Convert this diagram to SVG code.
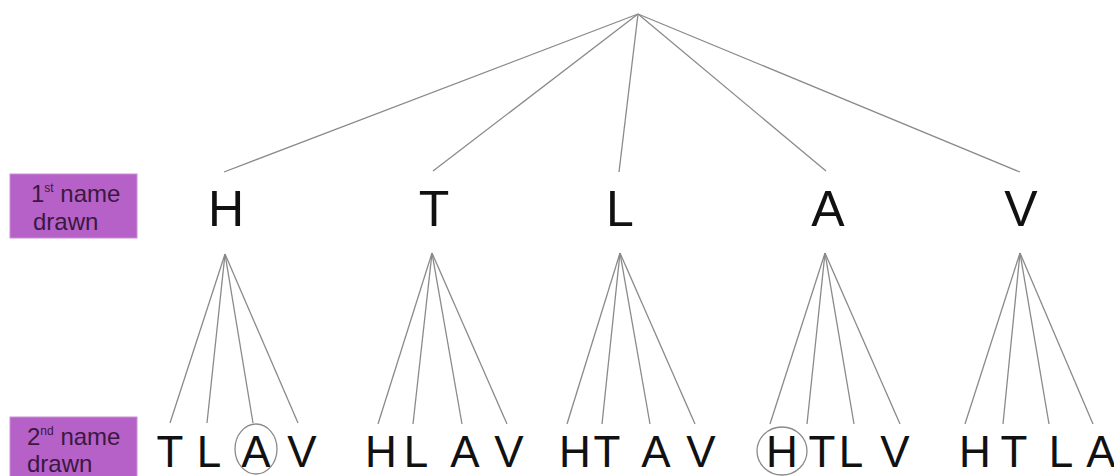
<svg xmlns="http://www.w3.org/2000/svg" width="1114" height="476" viewBox="0 0 1114 476">
<style>
.e{stroke:#8a8a8a;stroke-width:1.3;fill:none}
.big{font-family:"Liberation Sans",Arial,sans-serif;font-size:50px;fill:#111;text-anchor:middle}
.sm{font-family:"Liberation Sans",Arial,sans-serif;font-size:44px;fill:#111;text-anchor:middle}
.lab{font-family:"Liberation Sans",Arial,sans-serif;font-size:24px;fill:#3a1840}
.sup{font-size:12px}
.box{fill:#b661c8;stroke:#c890d4;stroke-width:1}
.ring{fill:none;stroke:#8a8a8a;stroke-width:1.3}
</style>
<rect width="1114" height="476" fill="#fff"/>
<g id="connectors">
<line class="e" x1="638" y1="14" x2="224" y2="172"/>
<line class="e" x1="638" y1="14" x2="433" y2="171"/>
<line class="e" x1="638" y1="14" x2="619" y2="172"/>
<line class="e" x1="638" y1="14" x2="826" y2="171"/>
<line class="e" x1="638" y1="14" x2="1020" y2="172"/>
<line class="e" x1="225" y1="254" x2="170" y2="423"/>
<line class="e" x1="225" y1="254" x2="207" y2="423"/>
<line class="e" x1="225" y1="254" x2="253" y2="423"/>
<line class="e" x1="225" y1="254" x2="298" y2="423"/>
<line class="e" x1="432" y1="253" x2="378" y2="424"/>
<line class="e" x1="432" y1="253" x2="413" y2="424"/>
<line class="e" x1="432" y1="253" x2="462" y2="424"/>
<line class="e" x1="432" y1="253" x2="507" y2="424"/>
<line class="e" x1="620" y1="253" x2="567" y2="424"/>
<line class="e" x1="620" y1="253" x2="602" y2="424"/>
<line class="e" x1="620" y1="253" x2="650" y2="424"/>
<line class="e" x1="620" y1="253" x2="695" y2="424"/>
<line class="e" x1="825" y1="253" x2="770" y2="424"/>
<line class="e" x1="825" y1="253" x2="807" y2="424"/>
<line class="e" x1="825" y1="253" x2="854" y2="424"/>
<line class="e" x1="825" y1="253" x2="900" y2="424"/>
<line class="e" x1="1020" y1="253" x2="965" y2="424"/>
<line class="e" x1="1020" y1="253" x2="1003" y2="424"/>
<line class="e" x1="1020" y1="253" x2="1049" y2="424"/>
<line class="e" x1="1020" y1="253" x2="1093" y2="424"/>
</g>
<g id="label1">
<rect class="box" x="10" y="174" width="127" height="64"/>
<text class="lab" x="31" y="202">1<tspan class="sup" dy="-10">st</tspan><tspan dy="10"> name</tspan></text>
<text class="lab" x="33" y="230">drawn</text>
</g>
<g id="label2">
<rect class="box" x="10" y="417" width="127" height="62"/>
<text class="lab" x="27" y="445">2<tspan class="sup" dy="-10">nd</tspan><tspan dy="10"> name</tspan></text>
<text class="lab" x="27" y="472">drawn</text>
</g>
<g id="first">
<text class="big" x="226" y="226">H</text>
<text class="big" x="434" y="226">T</text>
<text class="big" x="620" y="226">L</text>
<text class="big" x="828" y="226">A</text>
<text class="big" x="1021" y="226">V</text>
</g>
<g id="g-H">
<text class="sm" x="170" y="467">T</text>
<text class="sm" x="209" y="467">L</text>
<text class="sm" x="256" y="467">A</text>
<text class="sm" x="302" y="467">V</text>
<ellipse class="ring" cx="256" cy="449" rx="21" ry="25"/>
</g>
<g id="g-T">
<text class="sm" x="381" y="467">H</text>
<text class="sm" x="416" y="467">L</text>
<text class="sm" x="465" y="467">A</text>
<text class="sm" x="509" y="467">V</text>
</g>
<g id="g-L">
<text class="sm" x="575" y="467">H</text>
<text class="sm" x="607" y="467">T</text>
<text class="sm" x="656" y="467">A</text>
<text class="sm" x="701" y="467">V</text>
</g>
<g id="g-A">
<text class="sm" x="782" y="467">H</text>
<text class="sm" x="822" y="467">T</text>
<text class="sm" x="851" y="467">L</text>
<text class="sm" x="895" y="467">V</text>
<ellipse class="ring" cx="782" cy="451" rx="25" ry="24"/>
</g>
<g id="g-V">
<text class="sm" x="975" y="467">H</text>
<text class="sm" x="1014" y="467">T</text>
<text class="sm" x="1061" y="467">L</text>
<text class="sm" x="1101" y="467">A</text>
</g>
</svg>
